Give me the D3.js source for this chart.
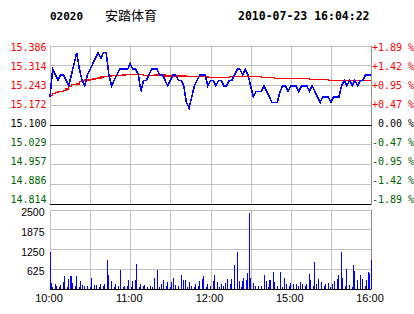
<!DOCTYPE html>
<html>
<head>
<meta charset="utf-8">
<script src="https://cdn.jsdelivr.net/npm/d3@7"></script>
<style>
  body { margin: 0; background: #fff; }
  svg { display: block; }
  text { white-space: pre; }
</style>
</head>
<body>
<div id="chart"></div>
<script>
// quote header
var stockCode = "02020";
var stockName = "安踏体育";
var stamp = "2010-07-23 16:04:22";
var prevClose = 15.100;

// tick labels
var priceTicks = ["15.386", "15.314", "15.243", "15.172", "15.100", "15.029", "14.957", "14.886", "14.814"];
var pctTicks = ["+1.89 %", "+1.42 %", "+0.95 %", "+0.47 %", " 0.00 %", "-0.47 %", "-0.95 %", "-1.42 %", "-1.89 %"];
var volTicks = [2500, 1875, 1250, 625];
var timeTicks = [0, 60, 120, 180, 240];
var timeLabels = ["10:00", "11:00", "12:00", "15:00", "16:00"];

// price every 2 minutes (index k -> minute 2k)
var price = [
  15.20, 15.30, 15.28, 15.26, 15.28, 15.28, 15.26, 15.24, 15.28, 15.32,
  15.36, 15.30, 15.26, 15.24, 15.28, 15.30, 15.32, 15.34, 15.36, 15.34,
  15.36, 15.36, 15.28, 15.24, 15.26, 15.28, 15.30, 15.30, 15.30, 15.30,
  15.32, 15.30, 15.30, 15.28, 15.22, 15.26, 15.26, 15.28, 15.30, 15.30,
  15.30, 15.28, 15.28, 15.26, 15.24, 15.26, 15.28, 15.28, 15.26, 15.26,
  15.24, 15.18, 15.16, 15.20, 15.24, 15.26, 15.28, 15.28, 15.28, 15.24,
  15.26, 15.26, 15.24, 15.26, 15.26, 15.24, 15.24, 15.26, 15.26, 15.28,
  15.30, 15.30, 15.28, 15.30, 15.28, 15.24, 15.20, 15.22, 15.22, 15.22,
  15.24, 15.22, 15.20, 15.18, 15.18, 15.18, 15.22, 15.24, 15.24, 15.22,
  15.24, 15.24, 15.24, 15.22, 15.24, 15.24, 15.24, 15.22, 15.24, 15.22,
  15.20, 15.18, 15.20, 15.20, 15.20, 15.18, 15.20, 15.20, 15.20, 15.24,
  15.26, 15.24, 15.26, 15.24, 15.26, 15.24, 15.26, 15.26, 15.28, 15.28,
  15.28
];

// average price every 2 minutes
var avgPrice = [
  15.205, 15.213, 15.216, 15.220, 15.220, 15.223, 15.229, 15.238, 15.245, 15.245,
  15.247, 15.256, 15.260, 15.261, 15.261, 15.262, 15.265, 15.267, 15.269, 15.272,
  15.273, 15.274, 15.276, 15.277, 15.277, 15.277, 15.278, 15.279, 15.280, 15.280,
  15.280, 15.280, 15.280, 15.280, 15.280, 15.278, 15.278, 15.278, 15.278, 15.279,
  15.279, 15.279, 15.279, 15.276, 15.276, 15.276, 15.276, 15.276, 15.276, 15.276,
  15.276, 15.274, 15.274, 15.274, 15.274, 15.274, 15.274, 15.274, 15.274, 15.271,
  15.271, 15.271, 15.271, 15.271, 15.271, 15.271, 15.271, 15.274, 15.274, 15.274,
  15.274, 15.274, 15.274, 15.274, 15.274, 15.274, 15.274, 15.274, 15.274, 15.271,
  15.271, 15.271, 15.271, 15.271, 15.267, 15.267, 15.267, 15.267, 15.267, 15.267,
  15.267, 15.267, 15.267, 15.267, 15.267, 15.267, 15.267, 15.263, 15.263, 15.263,
  15.263, 15.263, 15.263, 15.263, 15.260, 15.260, 15.260, 15.260, 15.260, 15.260,
  15.260, 15.260, 15.260, 15.260, 15.260, 15.260, 15.260, 15.260, 15.260, 15.260,
  15.260
];

// volume per minute
var volume = [
  1157, 170, 40, 0, 136, 73, 0, 60, 104, 0,
  210, 390, 0, 60, 315, 390, 390, 178, 0, 80,
  390, 0, 60, 241, 104, 0, 73, 0, 73, 0,
  60, 346, 0, 104, 0, 104, 0, 60, 157, 0,
  73, 136, 0, 895, 420, 0, 241, 0, 60, 136,
  0, 80, 0, 580, 0, 60, 73, 0, 80, 262,
  0, 60, 241, 0, 262, 770, 0, 60, 136, 0,
  80, 104, 0, 60, 0, 80, 0, 60, 346, 0,
  600, 0, 60, 157, 0, 262, 0, 80, 210, 0,
  60, 210, 325, 0, 104, 0, 80, 0, 420, 0,
  283, 283, 0, 60, 210, 0, 80, 0, 60, 157,
  0, 80, 241, 0, 315, 390, 0, 60, 136, 0,
  80, 0, 241, 420, 0, 210, 0, 60, 136, 0,
  80, 178, 0, 315, 0, 157, 315, 0, 740, 0,
  1157, 0, 241, 60, 241, 346, 0, 262, 495, 2400,
  346, 0, 178, 0, 73, 0, 73, 0, 73, 0,
  420, 0, 241, 60, 283, 283, 0, 525, 210, 0,
  80, 0, 525, 0, 60, 346, 0, 136, 0, 80,
  178, 0, 157, 0, 136, 0, 80, 210, 0, 136,
  0, 80, 136, 0, 450, 283, 0, 80, 840, 136,
  0, 315, 0, 210, 0, 80, 136, 0, 178, 0,
  60, 157, 0, 241, 0, 315, 420, 0, 1157, 346,
  0, 80, 610, 0, 104, 0, 60, 740, 555, 0,
  283, 0, 420, 0, 315, 0, 80, 283, 525, 480,
  895
];

var W = 414, H = 314;
var left = 50, right = 371;
var priceTop = 45.5, priceBottom = 203.5;
var volTop = 209.5, volBottom = 288.5;
var grid = "#c0c0c0", green = "#006600";
var mono = "'DejaVu Sans Mono', monospace";
var sans = "'Liberation Sans', Arial, sans-serif";

var svg = d3.select("#chart").append("svg")
    .attr("width", W)
    .attr("height", H);

var x = d3.scaleLinear().domain([0, 240]).range([left, right]);
var y = d3.scaleLinear().domain([14.814, 15.386]).range([priceBottom, priceTop]);
var yv = d3.scaleLinear().domain([0, 2500]).range([volBottom, volTop]);

// header
svg.append("text").attr("x", 50).attr("y", 20)
    .attr("font-family", mono).attr("font-weight", "bold").attr("font-size", 11)
    .text(stockCode);
svg.append("text").attr("x", 105).attr("y", 20)
    .attr("font-family", "'Noto Sans CJK SC', sans-serif").attr("font-size", 13)
    .text(stockName);
svg.append("text").attr("x", 238).attr("y", 20)
    .attr("font-family", mono).attr("font-weight", "bold").attr("font-size", 11.5)
    .text(stamp);

// vertical grid, every 30 minutes
var halfHours = d3.range(0, 241, 30);
svg.append("g").selectAll("line").data(halfHours).join("line")
    .attr("x1", d => Math.round(x(d)) + 0.5).attr("x2", d => Math.round(x(d)) + 0.5)
    .attr("y1", priceTop).attr("y2", priceBottom)
    .attr("stroke", (d, i) => i == halfHours.length - 1 ? "#909090" : grid);
svg.append("g").selectAll("line").data(halfHours).join("line")
    .attr("x1", d => Math.round(x(d)) + 0.5).attr("x2", d => Math.round(x(d)) + 0.5)
    .attr("y1", volTop).attr("y2", volBottom)
    .attr("stroke", (d, i) => i == halfHours.length - 1 ? "#909090" : grid);

// horizontal price grid
var priceVals = priceTicks.map(Number);
svg.append("g").selectAll("line").data(priceVals).join("line")
    .attr("x1", left).attr("x2", right + 0.5)
    .attr("y1", d => Math.round(y(d)) + 0.5).attr("y2", d => Math.round(y(d)) + 0.5)
    .attr("stroke", (d, i) => (i == 4 || i == 8) ? "#000" : grid);

// horizontal volume grid
svg.append("g").selectAll("line").data([2500, 1875, 1250, 625, 0]).join("line")
    .attr("x1", left).attr("x2", right + 0.5)
    .attr("y1", d => Math.round(yv(d)) + 0.5).attr("y2", d => Math.round(yv(d)) + 0.5)
    .attr("stroke", d => d == 0 ? "#000" : grid);

// price labels, spread evenly between first and last baseline
var lblY = d3.scaleLinear().domain([0, 8]).range([51, 203.3]);
function tickColor(i) { return i < 4 ? "#ff0000" : (i == 4 ? "#000" : green); }

svg.append("g").selectAll("text").data(priceTicks).join("text")
    .attr("x", 46.5).attr("y", (d, i) => lblY(i))
    .attr("text-anchor", "end")
    .attr("font-family", mono).attr("font-size", 10)
    .attr("fill", (d, i) => tickColor(i))
    .text(d => d);

svg.append("g").selectAll("text").data(pctTicks).join("text")
    .attr("x", 372).attr("y", (d, i) => lblY(i))
    .attr("font-family", mono).attr("font-size", 10)
    .attr("fill", (d, i) => tickColor(i))
    .text(d => d);

// volume labels
svg.append("g").selectAll("text").data(volTicks).join("text")
    .attr("x", 44.5).attr("y", d => yv(d) + 6.5)
    .attr("text-anchor", "end")
    .attr("font-family", sans).attr("font-size", 10.5)
    .text(d => d);

// time labels
svg.append("g").selectAll("text").data(timeTicks).join("text")
    .attr("x", d => x(d) - 1).attr("y", 301.5)
    .attr("text-anchor", "middle")
    .attr("font-family", sans).attr("font-size", 11)
    .text((d, i) => timeLabels[i]);

// volume bars
svg.append("g").selectAll("rect").data(volume).join("rect")
    .attr("x", (d, i) => Math.floor(x(i)))
    .attr("width", 1)
    .attr("y", d => yv(d))
    .attr("height", d => volBottom - yv(d))
    .attr("fill", "#0000ff")
    .attr("shape-rendering", "crispEdges");

// average and price lines
var line = d3.line()
    .x((d, i) => x(i * 2))
    .y(d => y(d));

svg.append("path").datum(avgPrice)
    .attr("d", line.curve(d3.curveStepAfter))
    .attr("fill", "none").attr("stroke", "#ff0000").attr("stroke-width", 1.4)
    .attr("shape-rendering", "crispEdges");

svg.append("path").datum(price)
    .attr("d", line.curve(d3.curveLinear))
    .attr("fill", "none").attr("stroke", "#0000ff").attr("stroke-width", 1.6)
    .attr("shape-rendering", "crispEdges");
</script>
</body>
</html>
